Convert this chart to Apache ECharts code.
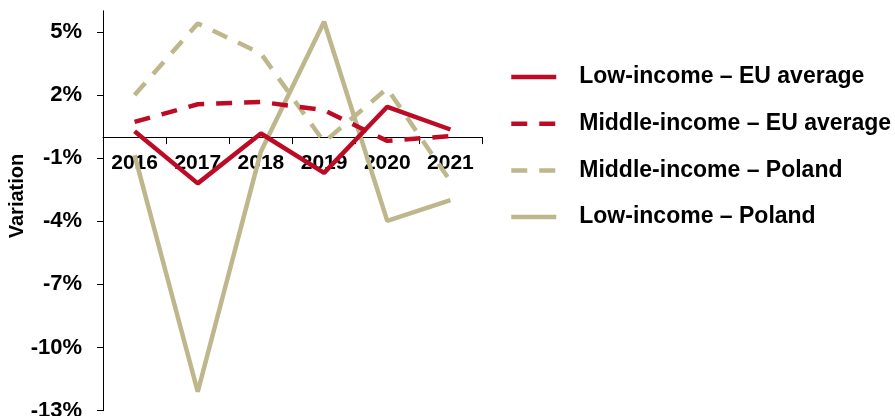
<!DOCTYPE html>
<html>
<head>
<meta charset="utf-8">
<script src="https://cdn.jsdelivr.net/npm/echarts@6/dist/echarts.min.js"></script>
<style>
html,body{margin:0;padding:0;background:#fff;}
#chart{width:895px;height:416px;}
</style>
</head>
<body>
<div id="chart"></div>
<script>
var years = ['2016', '2017', '2018', '2019', '2020', '2021'];
var lowIncomeEU = [0.28, -2.2, 0.17, -1.7, 1.44, 0.36];
var middleIncomeEU = [0.72, 1.56, 1.67, 1.28, -0.18, 0.05];
var middleIncomePoland = [2.0, 5.4, 3.97, -0.23, 2.31, -2.1];
var lowIncomePoland = [-0.86, -12.1, -0.68, 5.48, -3.98, -3.0];
var yTicks = [-13, -10, -7, -4, -1, 2, 5];
var yMin = -13, yMax = 6;
var seriesNames = ['Low-income – EU average', 'Middle-income – EU average', 'Middle-income – Poland', 'Low-income – Poland'];

var RED = '#BE0B25';
var TAN = '#BDB78B';
var FONT = '"Liberation Sans", Arial, sans-serif';

var GRID_TOP = 10.8, GRID_BOTTOM = 5.3, H = 416;
var plotH = H - GRID_TOP - GRID_BOTTOM;
// move the category axis (line, ticks, labels) up to the zero line
var zeroOffset = -plotH * (0 - yMin) / (yMax - yMin);

var chart = echarts.init(document.getElementById('chart'), null, {renderer: 'canvas'});
chart.setOption({
  animation: false,
  backgroundColor: '#ffffff',
  grid: {left: 103, right: 413, top: GRID_TOP, bottom: GRID_BOTTOM, containLabel: false, outerBoundsMode: 'none'},
  legend: {
    orient: 'vertical',
    left: 509,
    top: 65,
    padding: 0,
    itemWidth: 45,
    itemHeight: 14,
    itemGap: 22.7,
    data: seriesNames,
    itemStyle: {opacity: 0},
    lineStyle: {width: 4.5},
    textStyle: {fontFamily: FONT, fontWeight: 'bold', fontSize: 23, color: '#000', lineHeight: 24, padding: [0, 0, 0, 18]}
  },
  xAxis: {
    type: 'category',
    data: years,
    boundaryGap: true,
    offset: zeroOffset,
    axisLine: {onZero: false, lineStyle: {color: '#000', width: 1}},
    axisTick: {show: true, length: 7, lineStyle: {color: '#000', width: 1}},
    axisLabel: {fontFamily: FONT, fontWeight: 'bold', fontSize: 21, color: '#000', margin: 16},
    splitLine: {show: false}
  },
  yAxis: {
    type: 'value',
    min: yMin,
    max: yMax,
    axisLine: {show: true, lineStyle: {color: '#000', width: 1}},
    axisTick: {show: true, length: 6, customValues: yTicks, lineStyle: {color: '#000', width: 1}},
    axisLabel: {fontFamily: FONT, fontWeight: 'bold', fontSize: 22, color: '#000', margin: 21, customValues: yTicks,
      formatter: function (v) { return v + '%'; }},
    splitLine: {show: false}
  },
  graphic: [{
    type: 'text',
    x: 17.5,
    y: 196,
    rotation: Math.PI / 2,
    style: {text: 'Variation', fontFamily: FONT, fontWeight: 'bold', fontSize: 20, fill: '#000', align: 'center', verticalAlign: 'middle'}
  }],
  series: [
    {name: seriesNames[3], type: 'line', data: lowIncomePoland, symbol: 'none', z: 2,
      lineStyle: {color: TAN, width: 4.5, type: 'solid'}, itemStyle: {color: TAN}},
    {name: seriesNames[2], type: 'line', data: middleIncomePoland, symbol: 'none', z: 2,
      lineStyle: {color: TAN, width: 4.5, type: [16, 12]}, itemStyle: {color: TAN}},
    {name: seriesNames[1], type: 'line', data: middleIncomeEU, symbol: 'none', z: 3,
      lineStyle: {color: RED, width: 4.5, type: [16, 12]}, itemStyle: {color: RED}},
    {name: seriesNames[0], type: 'line', data: lowIncomeEU, symbol: 'none', z: 4,
      lineStyle: {color: RED, width: 4.5, type: 'solid'}, itemStyle: {color: RED}}
  ]
});
</script>
</body>
</html>
